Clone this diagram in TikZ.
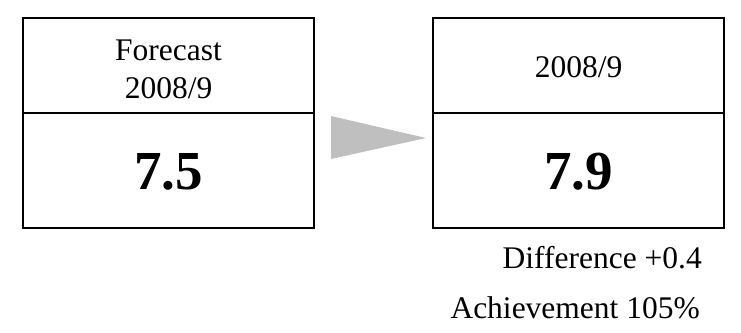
\documentclass[tikz,border=0pt]{standalone}
\usepackage{fontspec}
\setmainfont{Liberation Serif}
\begin{document}
\begin{tikzpicture}[x=1pt,y=-1pt,
  cell/.style={draw=black,line width=1.3pt,minimum width=291pt,inner sep=0pt,outer sep=0pt},
  toptext/.style={font=\fontsize{31.5}{38}\selectfont,align=center},
  bigtext/.style={font=\fontsize{55}{60}\selectfont\bfseries},
  note/.style={font=\fontsize{31.5}{36}\selectfont,anchor=east,inner sep=0pt}]
\useasboundingbox (0,0) rectangle (741,332);
% left box
\node[cell,minimum height=95pt,anchor=north west] (ltop) at (23,18) {};
\node[cell,minimum height=115pt,anchor=north west] (lbot) at (23,113) {};
\node[toptext] (ltxt) at (168.5,69) {Forecast\\2008/9};
\node[bigtext] (lval) at (168.5,172) {7.5};
% right box
\node[cell,minimum height=95pt,anchor=north west] (rtop) at (433,18) {};
\node[cell,minimum height=115pt,anchor=north west] (rbot) at (433,113) {};
\node[toptext] (rtxt) at (578.5,67) {2008/9};
\node[bigtext] (rval) at (578.5,172) {7.9};
% arrow triangle
\coordinate (ta) at (331,116);
\coordinate (tb) at (426,138);
\coordinate (tc) at (331,159);
\fill[black!25] (ta) -- (tb) -- (tc) -- cycle;
% notes
\node[note] (diff) at (702,258) {Difference +0.4};
\node[note] (ach) at (700,308) {Achievement 105\%};
\end{tikzpicture}
\end{document}
